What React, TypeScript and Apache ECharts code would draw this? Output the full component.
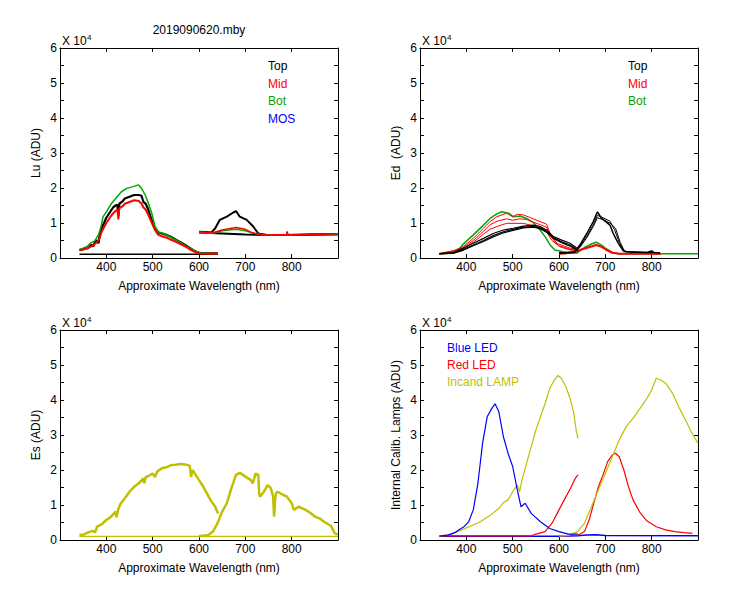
import React, { useEffect, useRef } from "react";
import * as echarts from "echarts";

// ---------- labels ----------
const titleText = "2019090620.mby";
const xName = "Approximate Wavelength (nm)";
const yNames = ["Lu (ADU)", "Ed  (ADU)", "Es (ADU)", "Internal Calib. Lamps (ADU)"];
const luLegend = ["Top", "Mid", "Bot", "MOS"];
const edLegend = ["Top", "Mid", "Bot"];
const lampLegend = ["Blue LED", "Red LED", "Incand LAMP"];

// ---------- data: [wavelength nm, value x10^4 ADU] ----------
// Lu
const luDark = [[342, 0.11], [641, 0.11]];
const luTop1 = [[342, 0.22], [350, 0.25], [356, 0.3], [360, 0.28], [368, 0.38], [372, 0.33], [375, 0.45], [380, 0.5], [383, 0.42], [385, 0.6], [390, 0.85], [395, 1.0], [400, 1.15], [405, 1.25], [410, 1.35], [415, 1.45], [420, 1.5], [424, 1.52], [426, 1.2], [428, 1.55], [435, 1.62], [440, 1.7], [450, 1.75], [460, 1.8], [470, 1.8], [476, 1.78], [480, 1.6], [485, 1.55], [490, 1.4], [495, 1.2], [500, 1.0], [505, 0.85], [512, 0.73], [520, 0.7], [530, 0.66], [540, 0.6], [550, 0.52], [560, 0.45], [570, 0.37], [580, 0.29], [590, 0.2], [600, 0.15], [620, 0.13], [641, 0.13]];
const luMid1 = [[342, 0.22], [350, 0.24], [360, 0.28], [368, 0.33], [375, 0.4], [380, 0.45], [385, 0.55], [390, 0.75], [395, 0.88], [400, 1.0], [405, 1.1], [410, 1.2], [415, 1.28], [420, 1.35], [424, 1.38], [426, 1.1], [428, 1.42], [435, 1.48], [440, 1.55], [450, 1.6], [460, 1.65], [470, 1.63], [476, 1.55], [480, 1.45], [485, 1.38], [490, 1.25], [495, 1.1], [500, 0.95], [505, 0.8], [512, 0.66], [520, 0.62], [530, 0.58], [540, 0.52], [550, 0.46], [560, 0.4], [570, 0.33], [580, 0.25], [590, 0.18], [600, 0.13], [620, 0.12], [641, 0.12]];
const luBot1 = [[342, 0.25], [357, 0.3], [365, 0.42], [375, 0.49], [383, 0.66], [388, 0.87], [393, 1.18], [400, 1.32], [411, 1.56], [422, 1.73], [433, 1.9], [444, 1.99], [458, 2.04], [469, 2.09], [476, 1.99], [484, 1.8], [491, 1.56], [498, 1.28], [505, 0.9], [512, 0.75], [523, 0.7], [537, 0.61], [552, 0.5], [566, 0.39], [580, 0.28], [591, 0.2], [602, 0.15], [624, 0.13], [641, 0.13]];
const luTop2 = [[600, 0.75], [615, 0.74], [627, 0.73], [635, 0.85], [645, 1.09], [660, 1.18], [674, 1.3], [680, 1.34], [688, 1.18], [703, 1.09], [717, 0.9], [728, 0.7], [746, 0.66], [800, 0.66], [850, 0.67], [900, 0.68]];
const luTop2b = [[600, 0.73], [650, 0.7], [700, 0.67], [750, 0.66], [800, 0.66], [850, 0.67], [900, 0.68]];
const luMid2 = [[600, 0.75], [630, 0.72], [650, 0.8], [670, 0.85], [680, 0.87], [700, 0.82], [715, 0.72], [730, 0.68], [750, 0.66], [789, 0.67], [790, 0.76], [792, 0.67], [850, 0.67], [900, 0.69]];
const luBot2 = [[600, 0.73], [630, 0.71], [650, 0.78], [680, 0.82], [700, 0.78], [720, 0.7], [740, 0.66], [800, 0.66], [850, 0.67], [900, 0.67]];

// Ed
const edTopA = [[342, 0.13], [372, 0.15], [393, 0.28], [415, 0.42], [437, 0.56], [458, 0.7], [480, 0.8], [501, 0.85], [523, 0.91], [545, 0.94], [559, 0.9], [573, 0.8], [588, 0.61], [606, 0.51], [624, 0.42], [641, 0.26]];
const edTopB = [[342, 0.12], [372, 0.14], [393, 0.24], [415, 0.37], [437, 0.5], [458, 0.64], [480, 0.75], [501, 0.82], [523, 0.88], [545, 0.9], [559, 0.86], [573, 0.76], [588, 0.58], [606, 0.46], [624, 0.37], [641, 0.22]];
const edTopC = [[342, 0.12], [372, 0.14], [393, 0.22], [415, 0.35], [437, 0.47], [458, 0.6], [480, 0.72], [501, 0.79], [523, 0.86], [545, 0.88], [559, 0.84], [573, 0.74], [588, 0.56], [606, 0.44], [624, 0.34], [641, 0.2]];
const edTop2A = [[600, 0.15], [620, 0.16], [634, 0.18], [645, 0.37], [660, 0.7], [674, 1.04], [683, 1.32], [692, 1.13], [710, 0.94], [717, 0.7], [728, 0.42], [739, 0.2], [746, 0.18], [790, 0.16], [800, 0.2], [805, 0.16], [818, 0.15]];
const edTop2B = [[600, 0.14], [634, 0.16], [645, 0.33], [660, 0.62], [674, 0.95], [683, 1.22], [695, 1.15], [710, 1.05], [720, 0.8], [730, 0.45], [740, 0.2], [760, 0.16], [818, 0.15]];
const edTop2C = [[600, 0.14], [634, 0.16], [645, 0.3], [660, 0.58], [674, 0.9], [683, 1.15], [695, 1.1], [712, 0.98], [722, 0.85], [732, 0.45], [742, 0.18], [818, 0.15]];
const edMidA = [[342, 0.12], [350, 0.15], [379, 0.23], [393, 0.32], [415, 0.56], [437, 0.85], [451, 1.04], [466, 1.18], [487, 1.28], [500, 1.18], [510, 1.25], [523, 1.23], [537, 1.16], [559, 1.04], [573, 0.97], [581, 0.7], [595, 0.42], [624, 0.28], [641, 0.23]];
const edMidB = [[342, 0.12], [350, 0.14], [379, 0.21], [393, 0.29], [415, 0.5], [437, 0.76], [451, 0.95], [466, 1.05], [487, 1.12], [500, 1.08], [515, 1.12], [530, 1.1], [545, 1.02], [560, 0.95], [573, 0.88], [582, 0.62], [598, 0.36], [624, 0.25], [641, 0.21]];
const edMidC = [[342, 0.12], [350, 0.13], [379, 0.2], [393, 0.26], [415, 0.45], [437, 0.68], [451, 0.82], [466, 0.9], [487, 0.99], [523, 0.99], [545, 0.92], [559, 0.9], [573, 0.75], [584, 0.51], [602, 0.32], [624, 0.23], [641, 0.2]];
const edMid2 = [[600, 0.12], [630, 0.15], [650, 0.25], [670, 0.33], [680, 0.37], [690, 0.33], [700, 0.25], [715, 0.15], [730, 0.12], [820, 0.12]];
const edBot1 = [[342, 0.12], [365, 0.15], [386, 0.28], [393, 0.39], [415, 0.66], [437, 0.94], [451, 1.13], [466, 1.26], [476, 1.32], [491, 1.28], [501, 1.18], [516, 1.2], [530, 1.13], [545, 1.01], [559, 0.8], [570, 0.61], [581, 0.37], [591, 0.23], [609, 0.18], [638, 0.15], [641, 0.15]];
const edBot2 = [[600, 0.12], [640, 0.15], [655, 0.3], [670, 0.4], [680, 0.45], [690, 0.38], [700, 0.28], [715, 0.15], [730, 0.12], [900, 0.12]];

// Es
const esDark = [[342, 0.105], [900, 0.105]];
const esCh1 = [[342, 0.14], [352, 0.16], [360, 0.21], [370, 0.26], [376, 0.22], [380, 0.38], [390, 0.45], [400, 0.57], [410, 0.66], [420, 0.81], [422, 0.65], [425, 0.85], [430, 1.02], [440, 1.19], [450, 1.38], [460, 1.52], [470, 1.62], [480, 1.76], [482, 1.62], [485, 1.8], [490, 1.82], [500, 1.9], [505, 1.8], [510, 1.96], [520, 2.05], [530, 2.08], [540, 2.14], [550, 2.15], [560, 2.17], [570, 2.16], [575, 2.14], [580, 2.12], [583, 1.8], [586, 2.0], [590, 1.92], [600, 1.71], [608, 1.55], [615, 1.38], [625, 1.14], [635, 0.95], [641, 0.76]];
const esCh2 = [[600, 0.11], [620, 0.14], [630, 0.24], [640, 0.48], [650, 0.81], [660, 1.05], [670, 1.48], [680, 1.86], [688, 1.92], [700, 1.81], [712, 1.71], [716, 1.62], [719, 1.75], [722, 1.9], [728, 1.86], [730, 1.3], [732, 1.24], [740, 1.38], [748, 1.57], [755, 1.48], [760, 1.24], [762, 0.67], [764, 1.1], [766, 1.33], [770, 1.38], [780, 1.3], [790, 1.24], [800, 1.05], [805, 0.86], [815, 0.95], [830, 0.86], [840, 0.78], [850, 0.67], [860, 0.62], [870, 0.52], [885, 0.4], [893, 0.19], [900, 0.16]];

// Internal lamps
const blueFlat = [[342, 0.11], [600, 0.11], [640, 0.12], [660, 0.14], [680, 0.15], [700, 0.13], [900, 0.12]];
const blueCh1 = [[342, 0.11], [360, 0.14], [375, 0.21], [385, 0.3], [395, 0.38], [405, 0.52], [415, 0.86], [425, 1.62], [435, 2.76], [445, 3.52], [455, 3.76], [462, 3.89], [470, 3.67], [480, 2.95], [490, 2.48], [500, 2.1], [510, 1.43], [518, 0.95], [527, 1.05], [540, 0.76], [560, 0.52], [580, 0.33], [600, 0.24], [620, 0.17], [641, 0.17]];
const redCh1 = [[342, 0.12], [540, 0.12], [550, 0.17], [570, 0.24], [585, 0.48], [600, 0.86], [615, 1.24], [625, 1.48], [635, 1.76], [641, 1.86]];
const redCh2 = [[600, 0.12], [640, 0.13], [655, 0.24], [665, 0.57], [675, 1.05], [685, 1.52], [695, 1.86], [705, 2.24], [715, 2.43], [722, 2.48], [730, 2.38], [740, 2.0], [750, 1.52], [760, 1.14], [775, 0.78], [790, 0.54], [810, 0.38], [830, 0.29], [850, 0.24], [870, 0.21], [888, 0.19]];
const incCh1 = [[342, 0.11], [370, 0.17], [390, 0.29], [410, 0.4], [430, 0.52], [450, 0.69], [470, 0.9], [480, 1.07], [490, 1.14], [500, 1.38], [510, 1.57], [515, 1.38], [520, 1.71], [530, 2.19], [540, 2.67], [550, 3.14], [560, 3.52], [570, 3.9], [580, 4.33], [590, 4.57], [598, 4.7], [605, 4.62], [615, 4.38], [625, 4.0], [632, 3.62], [637, 3.14], [641, 2.9]];
const incCh2 = [[600, 0.11], [620, 0.13], [640, 0.24], [655, 0.48], [670, 0.95], [685, 1.43], [700, 1.9], [715, 2.38], [730, 2.86], [745, 3.24], [760, 3.48], [775, 3.76], [790, 4.05], [800, 4.29], [810, 4.62], [820, 4.57], [830, 4.48], [845, 4.19], [860, 3.76], [875, 3.38], [885, 3.1], [900, 2.76]];

// ---------- styling ----------
const BLACK = "#000000";
const RED = "#ff0000";
const GREEN = "#00a800";
const BLUE = "#0000ff";
const OLIVE = "#c0c000";
const FONT = "'Liberation Sans', Arial, sans-serif";

const grids = [
  { left: 60, top: 48, width: 278, height: 210 },
  { left: 420, top: 48, width: 278, height: 210 },
  { left: 60, top: 330, width: 278, height: 210 },
  { left: 420, top: 330, width: 278, height: 210 },
];

function buildAxes() {
  const xAxis: any[] = [];
  const yAxis: any[] = [];
  grids.forEach((_, i) => {
    const common = {
      type: "value",
      gridIndex: i,
      axisLine: { show: true, onZero: false, lineStyle: { color: BLACK, width: 1 } },
      axisTick: { show: true, inside: true, length: 4, lineStyle: { color: BLACK } },
      splitLine: { show: false },
    };
    xAxis.push({
      ...common,
      position: "bottom",
      min: 300,
      max: 900,
      interval: 100,
      name: xName,
      nameLocation: "middle",
      nameGap: 22,
      nameTextStyle: { color: BLACK, fontSize: 12, fontFamily: FONT },
      axisLabel: {
        color: BLACK,
        fontSize: 12,
        fontFamily: FONT,
        margin: 3,
        formatter: (v: number) => (v === 300 || v === 900 ? "" : String(v)),
      },
    });
    xAxis.push({
      ...common,
      position: "top",
      min: 300,
      max: 900,
      interval: 100,
      axisLabel: { show: false },
    });
    yAxis.push({
      ...common,
      position: "left",
      min: 0,
      max: 6,
      interval: 0.5,
      name: yNames[i],
      nameLocation: "middle",
      nameGap: 18,
      nameTextStyle: { color: BLACK, fontSize: 12, fontFamily: FONT },
      axisLabel: {
        color: BLACK,
        fontSize: 12,
        fontFamily: FONT,
        margin: 3,
        formatter: (v: number) => (Number.isInteger(v) ? String(v) : ""),
      },
    });
    yAxis.push({
      ...common,
      position: "right",
      min: 0,
      max: 6,
      interval: 0.5,
      axisLabel: { show: false },
    });
  });
  return { xAxis, yAxis };
}

function line(data: number[][], gi: number, color: string, width: number) {
  return {
    type: "line",
    data,
    xAxisIndex: gi * 2,
    yAxisIndex: gi * 2,
    showSymbol: false,
    symbol: "none",
    lineStyle: { color, width },
    emphasis: { disabled: true },
    clip: true,
  };
}

function txt(text: string, x: number, y: number, color: string, size = 12, align = "left") {
  return {
    type: "text",
    x,
    y,
    style: {
      text,
      fill: color,
      fontSize: size,
      fontFamily: FONT,
      textAlign: align,
      textVerticalAlign: "middle",
    },
  };
}

export default function App() {
  const ref = useRef<HTMLDivElement>(null);
  useEffect(() => {
    if (!ref.current) return;
    const chart = echarts.init(ref.current, undefined, { renderer: "svg" });
    const { xAxis, yAxis } = buildAxes();

    const series = [
      // Lu
      line(luDark, 0, BLACK, 1.5),
      line(luTop1, 0, BLACK, 2.2),
      line(luBot1, 0, GREEN, 1.5),
      line(luMid1, 0, RED, 2),
      line(luTop2b, 0, BLACK, 2),
      line(luTop2, 0, BLACK, 2),
      line(luBot2, 0, GREEN, 1.5),
      line(luMid2, 0, RED, 1.5),
      // Ed
      line(edBot1, 1, GREEN, 1.5),
      line(edBot2, 1, GREEN, 1.5),
      line(edMidA, 1, RED, 1),
      line(edMidB, 1, RED, 1),
      line(edMidC, 1, RED, 1),
      line(edMid2, 1, RED, 2),
      line(edTopA, 1, BLACK, 1.2),
      line(edTopB, 1, BLACK, 1.2),
      line(edTopC, 1, BLACK, 1.2),
      line(edTop2A, 1, BLACK, 1.5),
      line(edTop2B, 1, BLACK, 1),
      line(edTop2C, 1, BLACK, 1),
      // Es
      line(esDark, 2, OLIVE, 1.2),
      line(esCh1, 2, OLIVE, 2.5),
      line(esCh2, 2, OLIVE, 2.5),
      // Lamps
      line(blueFlat, 3, BLUE, 1.5),
      line(redCh1, 3, RED, 1.2),
      line(redCh2, 3, RED, 1.2),
      line(incCh1, 3, OLIVE, 1.2),
      line(incCh2, 3, OLIVE, 1.2),
      line(blueCh1, 3, BLUE, 1.2),
    ];

    const graphic: any[] = [txt(titleText, 199, 30, BLACK, 12, "center")];
    grids.forEach((g) => {
      graphic.push(txt("X 10", g.left + 2, g.top - 7, BLACK, 12));
      graphic.push(txt("4", g.left + 27, g.top - 11, BLACK, 8));
    });
    const legColors1 = [BLACK, RED, GREEN, BLUE];
    luLegend.forEach((t, k) => graphic.push(txt(t, 268, 66 + k * 17.6, legColors1[k])));
    edLegend.forEach((t, k) => graphic.push(txt(t, 628, 66 + k * 17.6, legColors1[k])));
    const legColors3 = [BLUE, RED, OLIVE];
    lampLegend.forEach((t, k) => graphic.push(txt(t, 447, 347.5 + k * 17.3, legColors3[k])));

    chart.setOption({
      animation: false,
      backgroundColor: "#ffffff",
      textStyle: { fontFamily: FONT },
      grid: grids.map((g) => ({ ...g, containLabel: false })),
      xAxis,
      yAxis,
      series,
      graphic,
    });
    return () => chart.dispose();
  }, []);
  return (
    <div
      ref={ref}
      style={{ position: "fixed", left: 0, top: 0, width: 750, height: 600, background: "#fff" }}
    />
  );
}
